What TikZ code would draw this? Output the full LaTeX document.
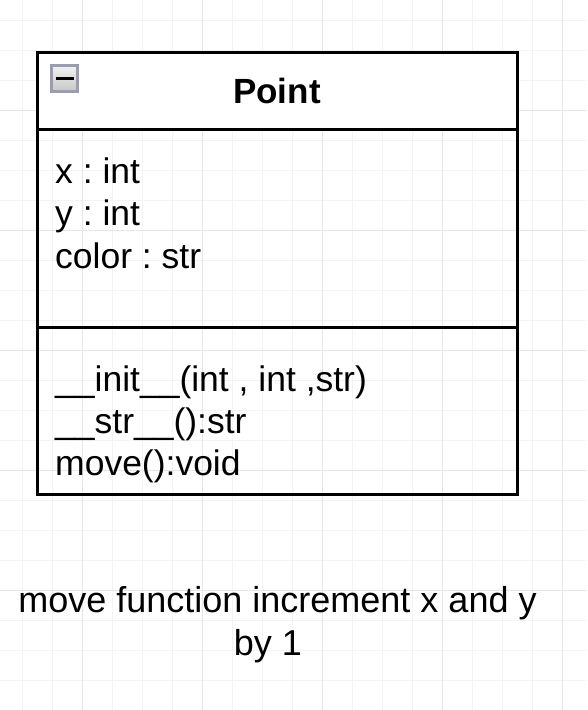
\documentclass[tikz,border=0pt]{standalone}
\usepackage{fontspec}
\setmainfont{Liberation Sans}
\usetikzlibrary{shadings}
\definecolor{gridminor}{HTML}{F3F3F3}
\definecolor{gridmajor}{HTML}{E6E6E6}
\definecolor{iconborder}{HTML}{9A9CB0}
\frenchspacing
\begin{document}
\begin{tikzpicture}[x=1pt,y=1pt,
  minorline/.style={draw=gridminor,line width=1pt},
  majorline/.style={draw=gridmajor,line width=1pt},
  compartment/.style={draw=black,line width=3pt,anchor=north west,inner sep=0pt,outer sep=0pt,minimum width=480pt},
  umltext/.style={anchor=base west,inner sep=0pt,font=\fontsize{35.5}{42}\selectfont},
  notetext/.style={anchor=base,inner sep=0pt,font=\fontsize{36}{42}\selectfont}]
\useasboundingbox (0,0) rectangle (587,-710);
\fill[white] (0,0) rectangle (587,-710);
% grid
\foreach \x in {22,52,...,562} \draw[minorline] (\x,0) -- (\x,-710);
\foreach \y in {20,50,...,680} \draw[minorline] (0,-\y) -- (587,-\y);
\foreach \x in {82,202,...,562} \draw[majorline] (\x,0) -- (\x,-710);
\foreach \y in {110,230,...,590} \draw[majorline] (0,-\y) -- (587,-\y);
% class box
\node[compartment,minimum height=198pt] (attrs) at (37,-129) {};
\node[compartment,minimum height=167pt] (methods) at (37,-327) {};
\node[compartment,fill=white,minimum height=77pt,font=\fontsize{35}{42}\selectfont\bfseries] (header) at (37,-52) {Point};
% collapse icon
\node[draw=iconborder,line width=2.5pt,top color=white!95!black,bottom color=white!78!black,minimum width=26pt,minimum height=26pt,inner sep=0pt,outer sep=0pt,anchor=north west] (icon) at (51.5,-65.5) {};
\draw[black,line width=2.6pt] ([xshift=-9pt]icon.center) -- ([xshift=9pt]icon.center);
% attributes
\node[umltext] (a1) at (55,-183) {x : int};
\node[umltext] (a2) at (55,-225.5) {y : int};
\node[umltext] (a3) at (55,-268) {color : str};
% methods
\node[umltext] (m1) at (55,-391) {\_\_init\_\_(int , int ,str)};
\node[umltext] (m2) at (55,-433) {\_\_str\_\_():str};
\node[umltext] (m3) at (55,-475) {move():void};
% note
\node[notetext] (n1) at (277.5,-612) {move function increment x and y};
\node[notetext] (n2) at (268,-655) {by 1};
\end{tikzpicture}
\end{document}
